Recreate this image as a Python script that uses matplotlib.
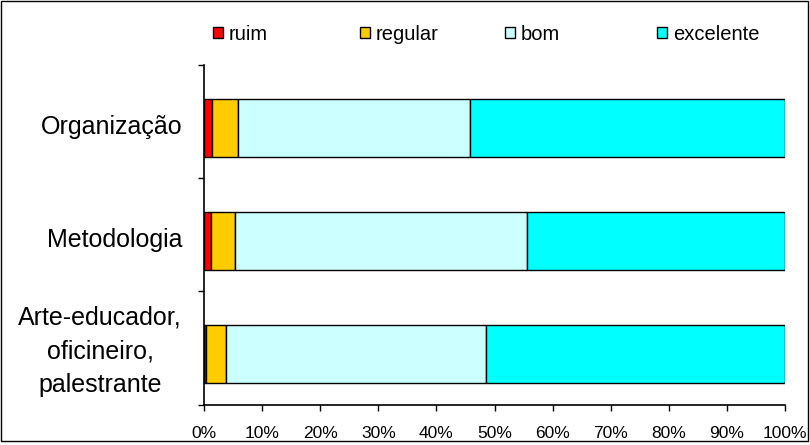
import matplotlib.pyplot as plt
from matplotlib.patches import Rectangle
import numpy as np

plt.rcParams['font.family'] = ['Liberation Sans', 'DejaVu Sans']

# categories listed bottom to top
categorias = ['Arte-educador,\noficineiro,\npalestrante', 'Metodologia', 'Organização']
ruim = [0.3, 1.2, 1.4]
regular = [3.5, 4.1, 4.5]
bom = [44.7, 50.3, 39.9]
excelente = [51.5, 44.4, 54.2]

series = [('ruim', ruim, '#FF0000'),
          ('regular', regular, '#FFCC00'),
          ('bom', bom, '#CCFFFF'),
          ('excelente', excelente, '#00FFFF')]

fig = plt.figure(figsize=(8.1, 4.45), dpi=100)
ax = fig.add_axes([204/810, 1-405/445, 581/810, 340/445])

y = np.arange(len(categorias))
left = np.zeros(len(categorias))
barras = []
for nome, vals, cor in series:
    b = ax.barh(y, vals, left=left, height=0.51, color=cor, edgecolor='black',
                linewidth=1, label=nome)
    barras.append(b)
    left += np.array(vals)

ax.set_xlim(0, 100)
ax.set_ylim(-0.45, 2.56)
ax.set_xticks(np.arange(0, 101, 10))
ax.set_xticklabels(['%d%%' % v for v in range(0, 101, 10)], fontsize=12.5)
ax.tick_params(axis='x', length=4, width=1, pad=11)

# label positions nudged a little up, as in the original
ax.set_yticks(y + np.array([0.09, 0.03, 0.03]))
ax.set_yticklabels(categorias, fontsize=18, linespacing=1.5,
                   multialignment='center')
ax.tick_params(axis='y', length=0, pad=15.8)
ax.set_yticks([-0.45, 0.56, 1.56, 2.56], minor=True)
ax.tick_params(axis='y', which='minor', length=4, width=1)

for s in ['top', 'right']:
    ax.spines[s].set_visible(False)
for s in ['left', 'bottom']:
    ax.spines[s].set_linewidth(1.2)

# legend entries spaced like the original (one legend per entry)
leg_x = [213, 360, 505, 657]
for b, (nome, _, _), x in zip(barras, series, leg_x):
    leg = fig.legend(handles=[b], labels=[nome], loc='center left',
                     bbox_to_anchor=(x/810, 1-34/445), frameon=False,
                     fontsize=14.5, handlelength=0.5, handleheight=0.5,
                     handletextpad=0.3, borderpad=0, borderaxespad=0)

fig.patches.append(Rectangle((1/810, 1-441/445), 807/810, 440/445,
                             transform=fig.transFigure, fill=False,
                             edgecolor='black', linewidth=1))

fig.savefig('out.png', dpi=100)
